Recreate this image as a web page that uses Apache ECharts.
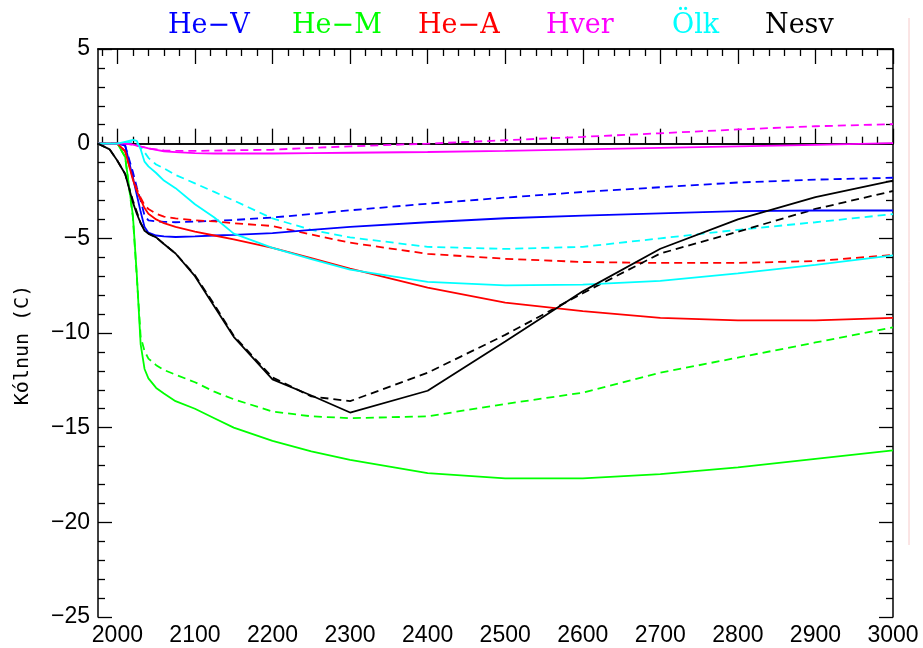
<!DOCTYPE html>
<html>
<head>
<meta charset="utf-8">
<script src="https://cdn.jsdelivr.net/npm/echarts@6/dist/echarts.min.js"></script>
<style>
html,body{margin:0;padding:0;background:#fff;}
#c{width:923px;height:648px;}
</style>
</head>
<body>
<div id="c"></div>
<script>
// ---- data ----
const years = [1975, 1990, 2000, 2010, 2020, 2025, 2030, 2035, 2040, 2050, 2060, 2075, 2100, 2125, 2150, 2200, 2250, 2300, 2400, 2500, 2600, 2700, 2800, 2900, 3000];

const heV   = [0, 0, 0, -0.1, -1.8, -2.7, -3.6, -4.4, -4.7, -4.85, -4.9, -4.93, -4.9, -4.85, -4.82, -4.72, -4.55, -4.4, -4.15, -3.94, -3.8, -3.68, -3.56, -3.53, -3.53];
const heVb  = [0, 0, 0, -0.1, -1.5, -2.3, -3.0, -3.8, -4.05, -4.1, -4.13, -4.15, -4.12, -4.07, -4.03, -3.9, -3.72, -3.52, -3.17, -2.85, -2.55, -2.3, -2.05, -1.9, -1.8];
const heM   = [0, 0, 0, -0.7, -3.8, -6.9, -10.6, -11.9, -12.4, -12.9, -13.2, -13.6, -14.0, -14.5, -15.0, -15.7, -16.25, -16.7, -17.4, -17.68, -17.68, -17.45, -17.1, -16.65, -16.2];
const heMb  = [0, 0, 0, -0.7, -3.9, -7.0, -10.2, -10.95, -11.35, -11.7, -11.95, -12.2, -12.6, -13.1, -13.5, -14.15, -14.4, -14.5, -14.4, -13.75, -13.15, -12.1, -11.3, -10.5, -9.7];
const heA   = [0, 0, 0, -0.4, -1.9, -2.5, -2.95, -3.4, -3.7, -4.0, -4.2, -4.4, -4.65, -4.85, -5.05, -5.5, -6.05, -6.6, -7.6, -8.4, -8.85, -9.2, -9.33, -9.33, -9.2];
const heAb  = [0, 0, 0, -0.4, -1.8, -2.4, -2.85, -3.25, -3.45, -3.7, -3.85, -3.95, -4.05, -4.1, -4.2, -4.35, -4.8, -5.23, -5.82, -6.08, -6.25, -6.3, -6.3, -6.2, -5.88];
const hver  = [0, 0, 0, 0, -0.05, -0.1, -0.15, -0.2, -0.25, -0.33, -0.4, -0.45, -0.5, -0.52, -0.52, -0.52, -0.5, -0.48, -0.44, -0.38, -0.3, -0.22, -0.14, -0.06, 0.03];
const hverb = [0, 0, 0, 0, -0.05, -0.1, -0.15, -0.2, -0.25, -0.3, -0.35, -0.38, -0.38, -0.37, -0.35, -0.32, -0.22, -0.14, 0.0, 0.18, 0.36, 0.55, 0.75, 0.92, 1.03];
const olk   = [0, 0, 0, 0.1, 0.2, 0.15, -0.3, -0.95, -1.2, -1.55, -1.95, -2.35, -3.2, -3.9, -4.75, -5.5, -6.1, -6.65, -7.3, -7.48, -7.45, -7.25, -6.85, -6.4, -5.9];
const olkb  = [0, 0, 0, 0.05, 0.1, 0.0, -0.2, -0.45, -0.75, -1.1, -1.3, -1.65, -2.1, -2.55, -3.0, -3.95, -4.55, -4.95, -5.45, -5.56, -5.45, -5.0, -4.55, -4.15, -3.72];
const nesv  = [0, -0.3, -0.9, -1.6, -3.1, -3.7, -4.2, -4.6, -4.75, -4.95, -5.3, -5.8, -7.0, -8.6, -10.2, -12.45, -13.3, -14.2, -13.05, -10.45, -7.8, -5.55, -4.0, -2.82, -1.95];
const nesvb = [0, -0.3, -0.9, -1.6, -3.0, -3.6, -4.2, -4.55, -4.75, -4.95, -5.3, -5.8, -6.95, -8.5, -10.15, -12.35, -13.35, -13.6, -12.1, -10.1, -7.9, -5.8, -4.65, -3.45, -2.5];

const names = ['He\u2212V', 'He\u2212M', 'He\u2212A', 'Hver', '\u00d6lk', 'Nesv'];
const colors = ['#0000ff', '#00ff00', '#ff0000', '#ff00ff', '#00ffff', '#000000'];
const solidSets = [heV, heM, heA, hver, olk, nesv];
const dashSets = [heVb, heMb, heAb, hverb, olkb, nesvb];

const xLabelValues = [2000, 2100, 2200, 2300, 2400, 2500, 2600, 2700, 2800, 2900, 3000];
const xMinorValues = [1980, 2020, 2040, 2060, 2080, 2120, 2140, 2160, 2180, 2220, 2240, 2260, 2280, 2320, 2340, 2360, 2380, 2420, 2440, 2460, 2480, 2520, 2540, 2560, 2580, 2620, 2640, 2660, 2680, 2720, 2740, 2760, 2780, 2820, 2840, 2860, 2880, 2920, 2940, 2960, 2980];
const yMin = -25, yMax = 5, yStep = 5;

// ---- chart ----
const chart = echarts.init(document.getElementById('c'), null, {renderer: 'canvas'});
const pairs = v => years.map((y, i) => [y, v[i]]);

const series = [];
solidSets.forEach((v, i) => {
  series.push({
    name: names[i] + ' b', type: 'line', data: pairs(dashSets[i]), showSymbol: false, symbol: 'none',
    xAxisIndex: 0, yAxisIndex: 0,
    lineStyle: {color: colors[i], width: 1.8, type: [8, 5]}, itemStyle: {color: colors[i]}, z: 2
  });
});
solidSets.forEach((v, i) => {
  series.push({
    name: names[i], type: 'line', data: pairs(v), showSymbol: false, symbol: 'none',
    xAxisIndex: 0, yAxisIndex: 0,
    lineStyle: {color: colors[i], width: 1.8}, itemStyle: {color: colors[i]}, z: 3
  });
});

const axLine = {show: true, lineStyle: {color: '#000', width: 1.5}};
function xAx(pos, major, withLabels) {
  return {
    type: 'value', position: pos, min: 1975, max: 3000,
    axisLine: axLine,
    splitLine: {show: false},
    axisTick: {show: true, inside: true, length: major ? 15 : 7, lineStyle: {color: '#000', width: 1.3},
               customValues: major ? xLabelValues : xMinorValues},
    axisLabel: withLabels ? {show: true, customValues: xLabelValues, color: '#000', fontFamily: 'Liberation Sans', fontSize: 23, margin: 7,
                             formatter: v => String(v)}
                          : {show: false}
  };
}
function yAx(pos, withLabels) {
  return {
    type: 'value', position: pos, min: yMin, max: yMax, interval: yStep,
    axisLine: axLine,
    splitLine: {show: false},
    axisTick: {show: true, inside: true, length: 14, lineStyle: {color: '#000', width: 1.3}},
    minorTick: {show: true, splitNumber: 5, length: 7, lineStyle: {color: '#000', width: 1.3}},
    axisLabel: withLabels ? {show: true, color: '#000', fontFamily: 'Liberation Sans', fontSize: 23, margin: 8,
      formatter: v => (v < 0 ? '\u2212' + Math.abs(v) : String(v))} : {show: false},
    name: withLabels ? 'K\u00f3lnun (C)' : '',
    nameLocation: 'middle', nameGap: 65, nameRotate: 90,
    nameTextStyle: {fontFamily: 'DejaVu Sans Mono', fontSize: 20, color: '#000', padding: [0, 24, 0, 0]}
  };
}

const legendLeft = [158, 282, 408, 536, 662, 755];
const legends = names.map((n, i) => ({
  data: [{name: n, textStyle: {color: colors[i]}}],
  left: legendLeft[i], top: 7, itemWidth: 0, itemHeight: 0, icon: 'rect',
  textStyle: {fontFamily: 'DejaVu Serif', fontSize: 27}, selectedMode: false
}));

chart.setOption({
  animation: false,
  backgroundColor: '#fff',
  grid: {left: 98, right: 30, top: 49, bottom: 31, containLabel: false},
  legend: legends,
  xAxis: [xAx('bottom', true, true), xAx('bottom', false, false), xAx('top', true, false), xAx('top', false, false)],
  yAxis: [yAx('left', true), yAx('right', false)],
  series: series,
  graphic: [{type: 'line', shape: {x1: 909, y1: 18, x2: 909, y2: 545}, style: {stroke: '#f6caca', lineWidth: 1}, silent: true}]
});
</script>
</body>
</html>
